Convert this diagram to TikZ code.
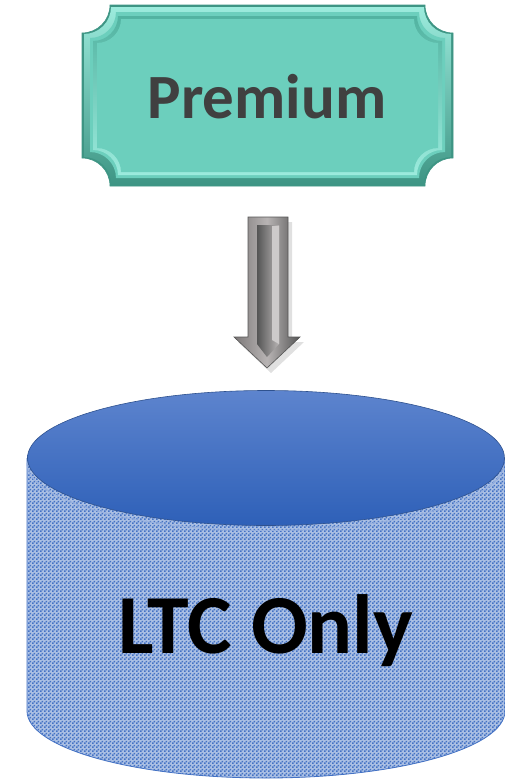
\documentclass[tikz,border=0pt]{standalone}
\usepackage{fontspec}
\setmainfont{Carlito}
\usetikzlibrary{patterns.meta}
\definecolor{tealmain}{HTML}{6CCFBD}
\definecolor{tealdark}{HTML}{3E9584}
\definecolor{teallight}{HTML}{9CEBDD}
\definecolor{tealmid}{HTML}{52B3A1}
\definecolor{txtgray}{HTML}{404040}
\definecolor{cylblue}{HTML}{4472C4}
\definecolor{cyltop}{HTML}{5D84CE}
\definecolor{cylbot}{HTML}{2E60B8}
\definecolor{cylline}{HTML}{2F528F}
\definecolor{arrdark}{HTML}{555555}
\definecolor{arrmid}{HTML}{7C7878}
\definecolor{arrlight}{HTML}{B8B4B4}
\tikzdeclarepattern{
  name=finechk,
  type=uncolored,
  bounding box={(0pt,0pt) and (4pt,4pt)},
  tile size={(4pt,4pt)},
  code={\fill (0pt,0pt) rectangle (2pt,2pt); \fill (2pt,2pt) rectangle (4pt,4pt);}
}
% plaque outline with concave corners: x1 y1 x2 y2 r
\newcommand\plaquepath[5]{({#1+#5},#2) -- ({#3-#5},#2) arc[start angle=180,end angle=90,radius=#5]
  -- (#3,{#4-#5}) arc[start angle=270,end angle=180,radius=#5]
  -- ({#1+#5},#4) arc[start angle=0,end angle=-90,radius=#5]
  -- (#1,{#2+#5}) arc[start angle=90,end angle=0,radius=#5] -- cycle}
\tikzset{
  plaquetext/.style={font=\bfseries\fontsize{63}{70}\selectfont, text=txtgray, anchor=base, inner sep=0pt},
  cyltext/.style={font=\bfseries\fontsize{84}{90}\selectfont, text=black, anchor=base, inner sep=0pt},
}
\begin{document}
\begin{tikzpicture}[x=1pt,y=-1pt]
\path[use as bounding box] (0,0) rectangle (505,779);
% ---- Premium plaque ----
\fill[tealdark] \plaquepath{82}{5}{453}{186}{28};
\shade[top color=teallight, bottom color=tealdark] \plaquepath{84}{7}{451}{184}{27};
\fill[tealmain] \plaquepath{90}{12}{445}{178}{26};
\shade[top color=tealmid, bottom color=teallight] \plaquepath{93}{16}{442}{175}{25};
\fill[tealmain] \plaquepath{97}{19}{438}{172}{24};
\draw[tealdark, line width=0.6pt] \plaquepath{82}{5}{453}{186}{28};
\node[plaquetext] (prem) at (267,118) {Premium};
% ---- block arrow ----
\coordinate (arrtop) at (268,217);
\coordinate (arrtip) at (267,368);
\fill[black, opacity=0.12] (252,222) -- (292,222) -- (292,342) -- (304,342) -- (271,373) -- (238,342) -- (252,342) -- cycle;
\shade[left color=arrmid, right color=arrdark, middle color=arrlight] (248,217) -- (288,217) -- (288,337) -- (300,337) -- (arrtip) -- (234,337) -- (248,337) -- cycle;
\draw[arrdark, line width=0.6pt] (248,217) -- (288,217) -- (288,337) -- (300,337) -- (arrtip) -- (234,337) -- (248,337) -- cycle;
\shade[left color=arrdark, right color=arrlight] (257,225) -- (279,225) -- (279,344) -- (267,357) -- (257,344) -- cycle;
\fill[arrlight!70!white] (272,226) -- (279,226) -- (279,344) -- (272,340) -- cycle;
% ---- cylinder ----
\fill[cylblue!45!white] (27,458) -- (27,711) arc[start angle=180,end angle=0,x radius=239,y radius=67] -- (505,458) -- cycle;
\fill[pattern={finechk}, pattern color=cylblue] (27,458) -- (27,711) arc[start angle=180,end angle=0,x radius=239,y radius=67] -- (505,458) -- cycle;
\draw[cylblue, line width=0.8pt] (27,458) -- (27,711) arc[start angle=180,end angle=0,x radius=239,y radius=67] -- (505,458);
\draw[cylblue!55!white, line width=1pt] (27,463) arc[start angle=180,end angle=0,x radius=238.5,y radius=67.5];
\shade[top color=cyltop, bottom color=cylbot, draw=cylline, line width=0.6pt] (266,458) ellipse[x radius=238.5, y radius=67.5];
\node[cyltext] (ltc) at (266,653) {LTC Only};
\end{tikzpicture}
\end{document}
